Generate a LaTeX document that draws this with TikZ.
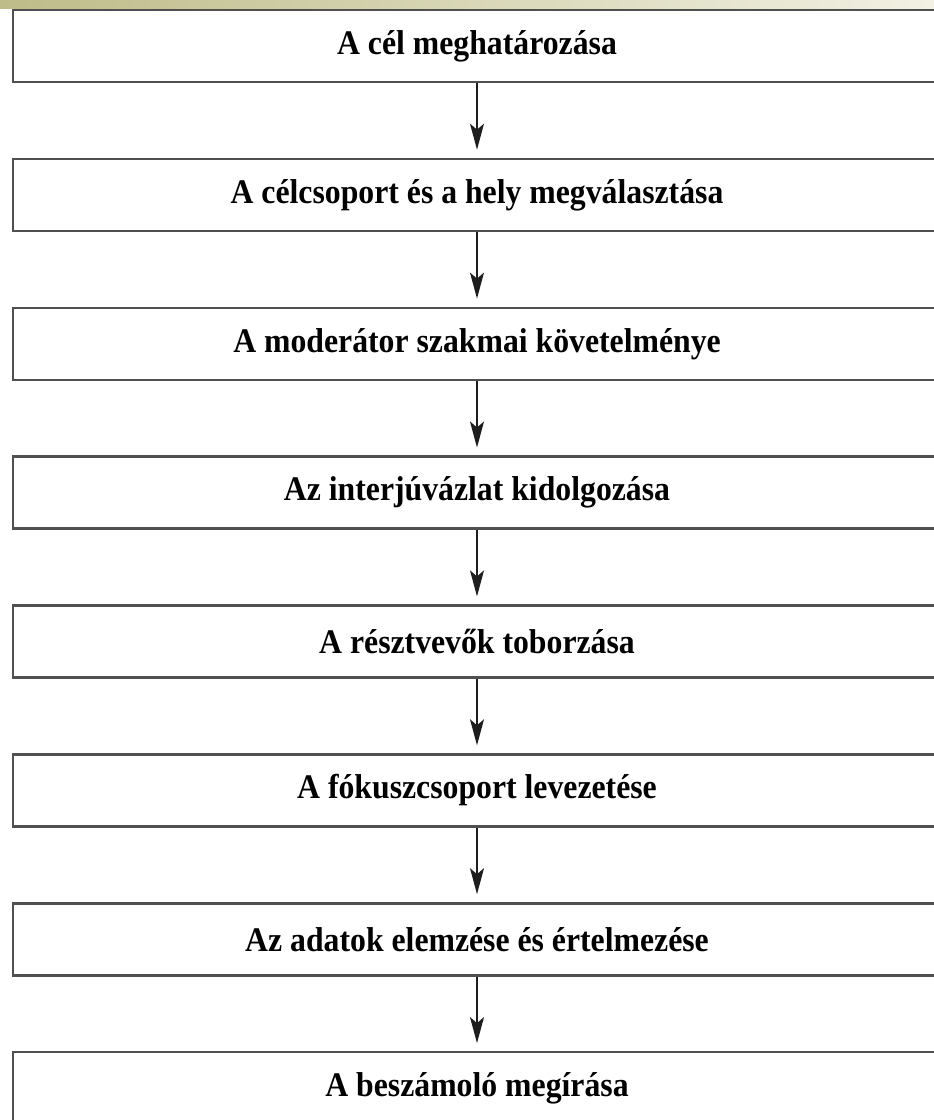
\documentclass[tikz,border=0pt]{standalone}
\usepackage{fontspec}
\setmainfont{Liberation Serif}[FakeStretch=0.92]
\usetikzlibrary{arrows.meta}
\definecolor{bandL}{RGB}{190,188,136}
\definecolor{bandR}{RGB}{242,241,228}
\definecolor{edge}{RGB}{80,80,80}
\definecolor{arr}{RGB}{30,30,30}
\tikzset{
  stepbox/.style={draw=edge, line width=2.4pt, fill=white, minimum width=928pt, minimum height=72pt,
    inner sep=0pt, font=\fontsize{34.5}{40}\selectfont\bfseries, text=black},
  flow/.style={draw=arr, line width=1.5pt, shorten >=8pt,
    -{Stealth[length=26pt,width=14pt,inset=6pt]}}
}
\begin{document}
\begin{tikzpicture}[x=1pt,y=1pt]
\useasboundingbox (0,0) rectangle (934,1120);
\clip (0,0) rectangle (934,1120);
\fill[white] (0,0) rectangle (934,1120);
\shade[left color=bandL, right color=bandR] (0,1111) rectangle (934,1120);
\node[stepbox] (b1) at (477,{1120-46}) {A cél meghatározása};
\node[stepbox] (b2) at (477,{1120-46-148.9}) {A célcsoport és a hely megválasztása};
\node[stepbox] (b3) at (477,{1120-46-2*148.9}) {A moderátor szakmai követelménye};
\node[stepbox] (b4) at (477,{1120-46-3*148.9}) {Az interjúvázlat kidolgozása};
\node[stepbox] (b5) at (477,{1120-46-4*148.9}) {A résztvevők toborzása};
\node[stepbox] (b6) at (477,{1120-46-5*148.9}) {A fókuszcsoport levezetése};
\node[stepbox] (b7) at (477,{1120-46-6*148.9}) {Az adatok elemzése és értelmezése};
\node[stepbox] (b8) at (477,{1120-46-7*148.9}) {A beszámoló megírása};
\foreach \a/\b in {b1/b2,b2/b3,b3/b4,b4/b5,b5/b6,b6/b7,b7/b8}
  \draw[flow] (\a.south) -- (\b.north);
\end{tikzpicture}
\end{document}
